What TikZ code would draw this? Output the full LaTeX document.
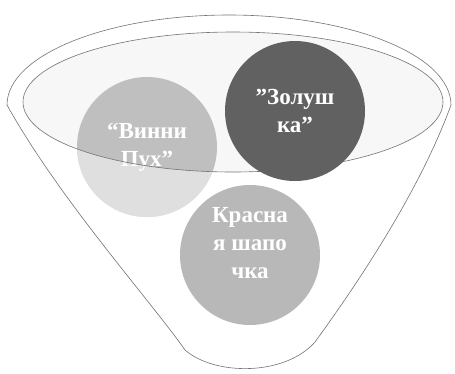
\documentclass[tikz,border=0pt]{standalone}
\usepackage{fontspec}
\setmainfont{Liberation Serif}
\begin{document}
\begin{tikzpicture}[x=1pt,y=-1pt,
  rim/.style={draw=black!55,line width=0.6pt},
  ball/.style={circle,minimum size=140pt,inner sep=0pt},
  balltext/.style={text=white,align=center,font={\fontsize{23}{28}\selectfont\bfseries}}]
\useasboundingbox (0,0) rectangle (455,373);
% funnel body
\path[fill=white,rim] (7,105) .. controls (7,55.3) and (106.4,15) .. (229,15)
  .. controls (351.6,15) and (451,55.3) .. (451,105)
  .. controls (420,190) and (360,280) .. (315,342)
  .. controls (285,376) and (215,376) .. (185,350)
  .. controls (150,300) and (60,200) .. (7,105) -- cycle;
% inner rim
\fill[black!3] (233,102) ellipse [x radius=210, y radius=70];
\node[ball,fill=black!25] (left) at (147,147) {};
\node[balltext] (lefttext) at (147,147) {“Винни\\Пух”};
\begin{scope}
  \clip (147,147) circle (70);
  \fill[white,opacity=0.5,even odd rule] (0,0) rectangle (455,373) (233,102) ellipse [x radius=210, y radius=70];
\end{scope}
\draw[rim] (233,102) ellipse [x radius=210, y radius=70];
\node[ball,fill=black!62] (right) at (295,111) {};
\node[balltext] at (right) {”Золуш\\ка”};
\node[ball,fill=black!28] (bottom) at (250,255) {};
\node[balltext] at (250,243) {Красна\\я шапо\\чка};
\end{tikzpicture}
\end{document}
